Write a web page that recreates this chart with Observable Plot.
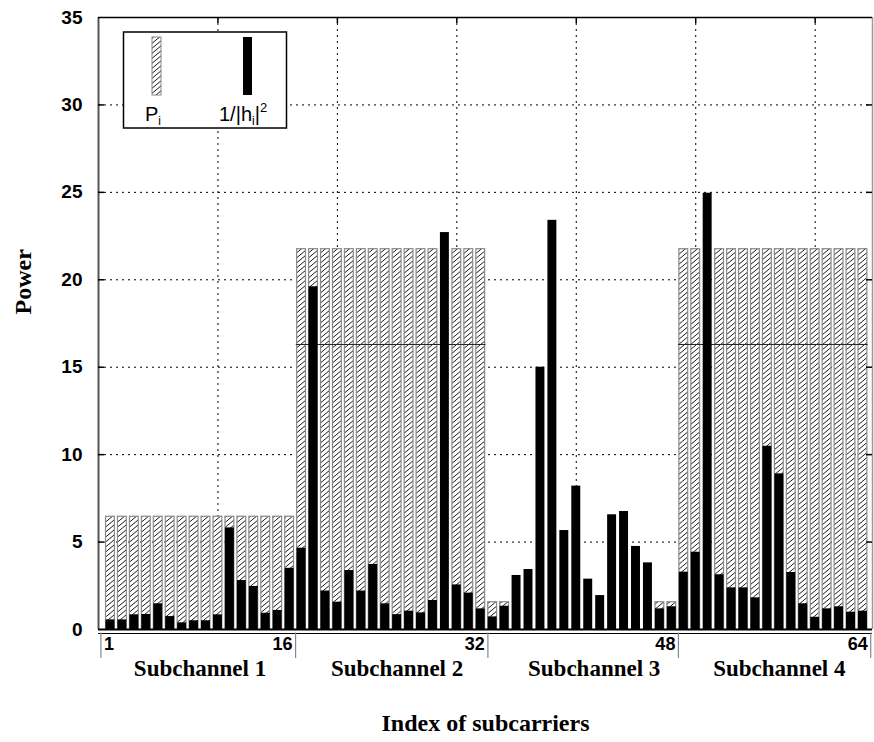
<!DOCTYPE html>
<html>
<head>
<meta charset="utf-8">
<script src="https://cdn.jsdelivr.net/npm/d3@7"></script>
<script src="https://cdn.jsdelivr.net/npm/@observablehq/plot@0.6"></script>
<style>
  html, body { margin: 0; padding: 0; background: #fff; }
</style>
</head>
<body>
<div id="chart"></div>
<script>
// ---- Data ----
const subcarriers = d3.range(1, 65);
// 1/|h_i|^2 per subcarrier
const invGain = [
  0.55, 0.55, 0.84, 0.86, 1.47, 0.74, 0.38, 0.50, 0.50, 0.84, 5.81, 2.80, 2.46, 0.93, 1.09, 3.50,
  4.65, 19.6, 2.20, 1.56, 3.37, 2.20, 3.72, 1.47, 0.85, 1.05, 0.95, 1.66, 22.7, 2.55, 2.08, 1.18,
  0.72, 1.33, 3.09, 3.43, 15.0, 23.4, 5.66, 8.20, 2.88, 1.94, 6.56, 6.75, 4.75, 3.81, 1.18, 1.30,
  3.28, 4.42, 24.95, 3.13, 2.38, 2.38, 1.81, 10.48, 8.90, 3.26, 1.47, 0.70, 1.18, 1.30, 0.99, 1.05
];
// water level (P_i + 1/|h_i|^2) of each subchannel
const waterLevels = [6.45, 21.75, 1.56, 21.75];
const subchannelNames = ["Subchannel 1", "Subchannel 2", "Subchannel 3", "Subchannel 4"];
const subchannelCenters = [8.5, 25, 41.5, 57];
const subchannelEdges = [0.2, 16.5, 32.6, 48.55, 64.65];
const edgeLabels = ["1", "16", "32", "48", "64"];
const yTicks = [0, 5, 10, 15, 20, 25, 30, 35];
const xGridTicks = [10, 20, 30, 40, 50, 60];
const levelSegments = [
  {x1: 16.56, x2: 32.44, y: 16.3},
  {x1: 48.56, x2: 64.44, y: 16.3}
];

const data = subcarriers.map((i, k) => ({i, h: invGain[k], level: waterLevels[Math.floor(k / 16)]}));
const hatched = data.filter(d => d.level > d.h);

const serif = "'Liberation Serif', 'Times New Roman', serif";
const sans = "'Liberation Sans', Arial, sans-serif";

const plot = Plot.plot({
  width: 874,
  height: 742,
  marginLeft: 98,
  marginRight: 2,
  marginTop: 17,
  marginBottom: 113,
  x: {domain: [0, 64.8], axis: null},
  y: {domain: [0, 35], axis: null},
  style: {background: "white", fontFamily: sans, overflow: "visible"},
  marks: [
    // dotted grid
    Plot.gridY(yTicks.slice(1, -1), {stroke: "#000", strokeOpacity: 1, strokeWidth: 1, strokeDasharray: "2,4"}),
    Plot.gridX(xGridTicks, {stroke: "#000", strokeOpacity: 1, strokeWidth: 1, strokeDasharray: "2,4"}),
    // P_i (hatched) bars up to the water level
    Plot.rect(hatched, {
      x1: d => d.i - 0.37, x2: d => d.i + 0.37, y1: 0, y2: "level",
      fill: "url(#hatch)", stroke: "#8a8a8a", strokeWidth: 1.2
    }),
    Plot.ruleY(levelSegments, {y: "y", x1: "x1", x2: "x2", stroke: "#222", strokeWidth: 1}),
    // 1/|h_i|^2 bars
    Plot.rect(data, {x1: d => d.i - 0.375, x2: d => d.i + 0.375, y1: 0, y2: "h", fill: "black"}),
    // frame
    Plot.ruleX([0], {stroke: "#555", strokeWidth: 2}),
    Plot.ruleX([64.8], {stroke: "#999", strokeWidth: 1.5}),
    Plot.ruleY([35], {stroke: "black", strokeWidth: 1.5}),
    Plot.ruleY([0], {stroke: "black", strokeWidth: 2}),
    Plot.ruleY([0], {dy: 4, stroke: "black", strokeWidth: 1}),
    // inward ticks
    Plot.ruleY(yTicks.slice(1, -1), {x1: 0, x2: 0.5, stroke: "black", strokeWidth: 1.5}),
    Plot.ruleY(yTicks.slice(1, -1), {x1: 64.3, x2: 64.8, stroke: "black", strokeWidth: 1.5}),
    Plot.ruleX(xGridTicks, {y1: 34.65, y2: 35, stroke: "black", strokeWidth: 1.5}),
    // y tick labels
    Plot.axisY({ticks: yTicks, tickSize: 0, tickPadding: 16, fontSize: 19, fontWeight: "bold",
      fontFamily: sans, label: null, tickFormat: d => d}),
    // subchannel separators and edge labels
    Plot.ruleX(subchannelEdges, {y1: -0.2, y2: -1.66, stroke: "#888", strokeWidth: 1.2}),
    Plot.text(subchannelEdges.slice(0, 1), {x: d => d, text: (d, k) => edgeLabels[k], frameAnchor: "bottom",
      dy: 20, dx: 3, textAnchor: "start", fontSize: 18, fontWeight: "bold", fontFamily: sans}),
    Plot.text(subchannelEdges.slice(1), {x: d => d, text: (d, k) => edgeLabels[k + 1], frameAnchor: "bottom",
      dy: 20, dx: -3, textAnchor: "end", fontSize: 18, fontWeight: "bold", fontFamily: sans}),
    Plot.text(subchannelNames, {x: (d, k) => subchannelCenters[k], text: d => d, frameAnchor: "bottom",
      dy: 46, fontSize: 23, fontWeight: "bold", fontFamily: serif}),
    // axis titles
    Plot.text(["Index of subcarriers"], {text: d => d, frameAnchor: "bottom", dy: 101,
      fontSize: 24, fontWeight: "bold", fontFamily: serif}),
    Plot.text(["Power"], {text: d => d, frameAnchor: "left", dx: -75, dy: -9, rotate: -90,
      fontSize: 24, fontWeight: "bold", fontFamily: serif})
  ]
});

document.getElementById("chart").appendChild(plot);

// hatch pattern
const svg = d3.select(plot);
const defs = svg.insert("defs", ":first-child");
const pat = defs.append("pattern").attr("id", "hatch")
  .attr("patternUnits", "userSpaceOnUse").attr("width", 6).attr("height", 5);
pat.append("rect").attr("width", 6).attr("height", 5).attr("fill", "white");
pat.append("path")
  .attr("d", "M-1,5.833L7,-0.833M-1,0.833L1,-0.833M5,5.833L7,4.167")
  .attr("stroke", "#1a1a1a").attr("stroke-width", 1).attr("fill", "none");

// legend
const lg = svg.append("g").attr("font-family", sans).attr("fill", "black").attr("text-anchor", "start");
lg.append("rect").attr("x", 123.5).attr("y", 32).attr("width", 163).attr("height", 96)
  .attr("fill", "white").attr("stroke", "black").attr("stroke-width", 1.5);
lg.append("rect").attr("x", 152).attr("y", 37).attr("width", 9).attr("height", 58)
  .attr("fill", "url(#hatch)").attr("stroke", "#888").attr("stroke-width", 1);
lg.append("rect").attr("x", 243).attr("y", 37).attr("width", 9).attr("height", 58).attr("fill", "black");
const t1 = lg.append("text").attr("x", 145).attr("y", 121).attr("font-size", 20);
t1.append("tspan").text("P");
t1.append("tspan").attr("dy", 4).attr("font-size", 12).text("i");
const t2 = lg.append("text").attr("x", 219).attr("y", 121).attr("font-size", 20);
t2.append("tspan").text("1/|h");
t2.append("tspan").attr("dy", 4).attr("font-size", 12).text("i");
t2.append("tspan").attr("dy", -4).text("|");
t2.append("tspan").attr("dy", -9).attr("font-size", 13).text("2");
</script>
</body>
</html>
